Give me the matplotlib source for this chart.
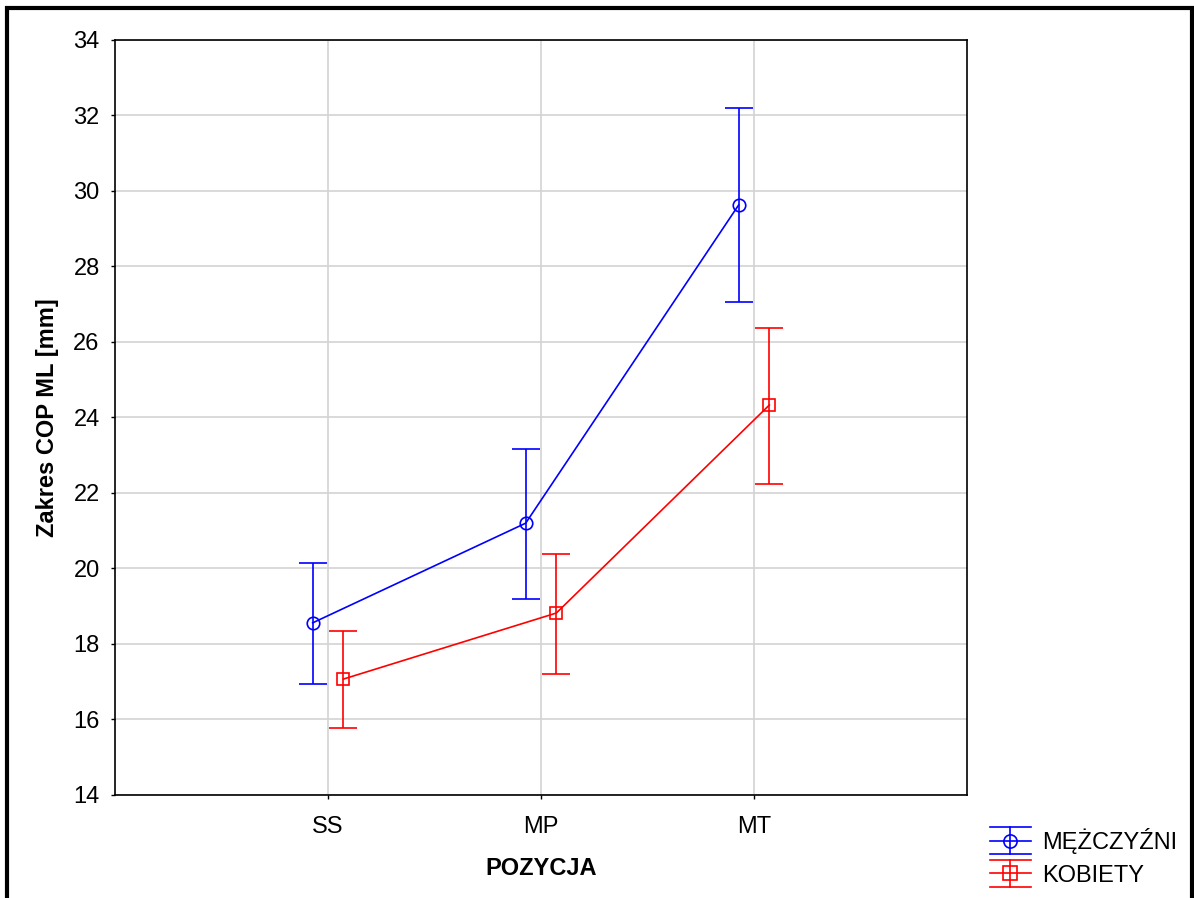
import numpy as np
import matplotlib
matplotlib.use('Agg')
import matplotlib.pyplot as plt
from matplotlib.patches import Rectangle
from matplotlib.lines import Line2D
from matplotlib.legend_handler import HandlerBase

plt.rcParams['font.family'] = ['Liberation Sans', 'DejaVu Sans']

font_size = 17

categories = ['SS', 'MP', 'MT']
men_mean = [18.56, 21.20, 29.63]
men_low = [16.94, 19.20, 27.06]
men_high = [20.15, 23.17, 32.20]
women_mean = [17.07, 18.82, 24.33]
women_low = [15.78, 17.20, 22.24]
women_high = [18.34, 20.38, 26.37]

yticks = np.arange(14, 35, 2)


class ErrHandler(HandlerBase):
    # legend key like the Statistica one: line + marker + error bar with wide caps
    def create_artists(self, legend, orig, xd, yd, width, height, fontsize, trans):
        c = orig.get_color()
        m = orig.get_marker()
        cy = height / 2 - yd
        h = height * 0.8
        x0, x1 = -xd, -xd + width
        xm = (x0 + x1) / 2
        arts = [
            Line2D([x0, x1], [cy, cy], color=c, lw=1.2),
            Line2D([x0, x1], [cy + h, cy + h], color=c, lw=1.2),
            Line2D([x0, x1], [cy - h, cy - h], color=c, lw=1.2),
            Line2D([xm, xm], [cy - h, cy + h], color=c, lw=1.2),
            Line2D([xm], [cy], color=c, marker=m, markersize=9.5, mfc='none', mew=1.2),
        ]
        for a in arts:
            a.set_transform(trans)
        return arts


fig = plt.figure(figsize=(11.94, 8.98), dpi=100)
ax = fig.add_axes([0.0963, 0.1147, 0.7136, 0.8408])

x = np.arange(1, len(categories) + 1)
off = 0.072

men_err = [np.array(men_mean) - np.array(men_low), np.array(men_high) - np.array(men_mean)]
women_err = [np.array(women_mean) - np.array(women_low), np.array(women_high) - np.array(women_mean)]

ax.errorbar(x - off, men_mean, yerr=men_err, color='#0000ff', lw=1.2, elinewidth=1.2,
            capsize=10, capthick=1.2, marker='o', markersize=9, mfc='none', mew=1.2, zorder=3)
ax.errorbar(x + off, women_mean, yerr=women_err, color='#ff0000', lw=1.2, elinewidth=1.2,
            capsize=10, capthick=1.2, marker='s', markersize=9, mfc='none', mew=1.2, zorder=3)

ax.set_xlim(0, 4)
ax.set_ylim(14, 34)
ax.set_xticks(x)
ax.set_xticklabels(categories)
ax.set_yticks(yticks)
ax.tick_params(labelsize=font_size, length=3, width=1, direction='out')
ax.tick_params(axis='x', pad=12)
ax.tick_params(axis='y', pad=8)

ax.grid(color='#d3d3d3', linewidth=1.2)
ax.set_axisbelow(True)
for s in ax.spines.values():
    s.set_linewidth(1.2)

ax.set_xlabel('POZYCJA', fontsize=font_size, fontweight='bold', labelpad=14)
ax.set_ylabel('Zakres COP ML [mm]', fontsize=font_size, fontweight='bold', labelpad=10)

h1 = Line2D([], [], color='#0000ff', marker='o')
h2 = Line2D([], [], color='#ff0000', marker='s')
leg = fig.legend([h1, h2], ['MĘŻCZYŹNI', 'KOBIETY'], loc='upper left',
                 bbox_to_anchor=(0.829, 0.078), frameon=False, fontsize=font_size,
                 handlelength=1.75, handletextpad=0.45, borderaxespad=0,
                 borderpad=0, labelspacing=0.45,
                 handler_map={h1: ErrHandler(), h2: ErrHandler()})

# outer frame
fig.add_artist(Rectangle((7 / 1194, -0.05), (1192 - 7) / 1194, 1.05 - 8 / 898,
                         transform=fig.transFigure, fill=False, lw=3, ec='black'))

plt.savefig('out.png', dpi=100)
